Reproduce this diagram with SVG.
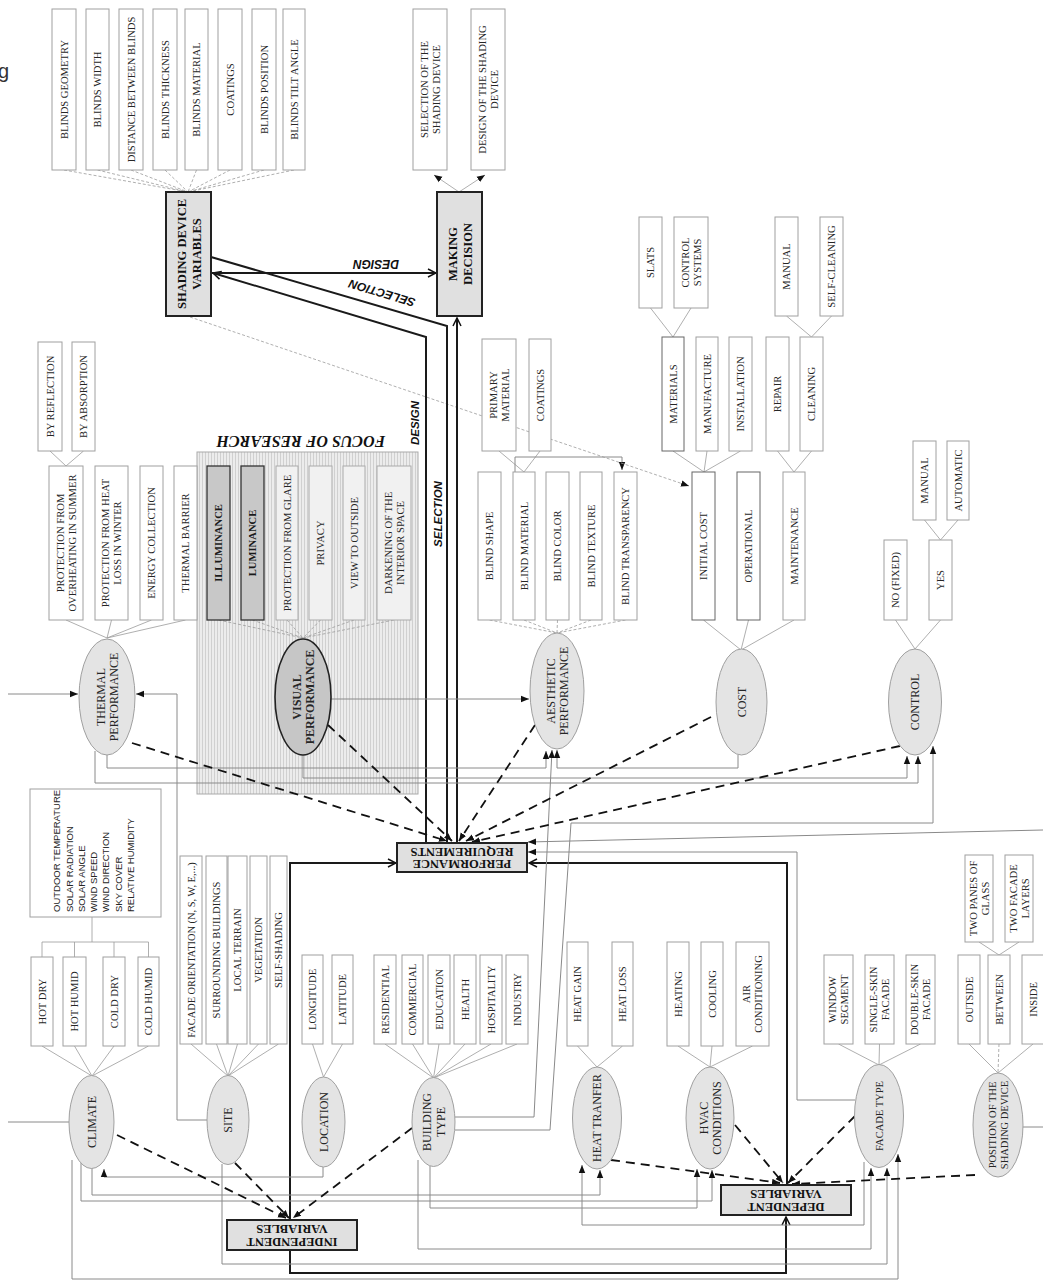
<svg xmlns="http://www.w3.org/2000/svg" width="1043" height="1280" viewBox="0 0 1043 1280">
<defs>
<style>
.b{fill:#fff;stroke:#a0a0a0;stroke-width:1}
.bk{fill:#fff;stroke:#666;stroke-width:1}
.fl{fill:#f1f1f1;stroke:#aaa;stroke-width:1}
.fd{fill:#c8c8c8;stroke:#333;stroke-width:1.3}
.t{font-family:"Liberation Serif","Times New Roman",serif;font-size:10.6px;fill:#262626;text-anchor:middle}
.tb{font-weight:bold;fill:#1a1a1a}
.e{fill:#e4e4e4;stroke:#a0a0a0;stroke-width:1}
.ev{fill:#c6c6c6;stroke:#222;stroke-width:1.6}
.et{font-family:"Liberation Serif","Times New Roman",serif;font-size:12px;fill:#262626;text-anchor:middle}
.m{fill:#e0e0e0;stroke:#222;stroke-width:2}
.mt{font-family:"Liberation Serif","Times New Roman",serif;font-size:12.5px;font-weight:bold;fill:#111;text-anchor:middle}
.c{fill:none;stroke:#9a9a9a;stroke-width:0.8}
.cd{fill:none;stroke:#9a9a9a;stroke-width:0.8;stroke-dasharray:3 2}
.g{fill:none;stroke:#8a8a8a;stroke-width:1}
.k{fill:none;stroke:#1a1a1a;stroke-width:2}
.d{fill:none;stroke:#111;stroke-width:1.8;stroke-dasharray:9 6}
.lab{font-family:"Liberation Sans",Arial,sans-serif;font-weight:bold;font-style:italic;fill:#111;text-anchor:middle}
.ws{font-family:"Liberation Sans",Arial,sans-serif;font-size:9.5px;fill:#262626}
</style>
<marker id="ah" viewBox="0 0 10 10" refX="10" refY="5" markerWidth="8" markerHeight="8" markerUnits="userSpaceOnUse" orient="auto"><path d="M0,1 L10,5 L0,9 z" fill="#111"/></marker>
<marker id="oa" viewBox="0 0 10 10" refX="9" refY="5" markerWidth="10" markerHeight="10" markerUnits="userSpaceOnUse" orient="auto"><path d="M1,1 L9,5 L1,9" fill="none" stroke="#111" stroke-width="1.5"/></marker>
<pattern id="stripes" width="3" height="10" patternUnits="userSpaceOnUse"><rect width="3" height="10" fill="#ececec"/><line x1="1.5" y1="0" x2="1.5" y2="10" stroke="#d0d0d0" stroke-width="1"/></pattern>
</defs>
<rect width="1043" height="1280" fill="#fff"/>
<text x="-2" y="78" font-family="Liberation Sans,Arial,sans-serif" font-size="20" fill="#333">g</text>

<!-- focus area -->
<g id="focus">
<rect x="197" y="452" width="221" height="342" fill="url(#stripes)" stroke="#aaa"/>
<text class="lab" style="font-family:'Liberation Serif',serif;font-size:16px" transform="translate(301,441) rotate(180)" y="5.5">FOCUS OF RESEARCH</text>
</g>

<!-- connectors -->
<g id="connectors">
<path class="cd" d="M64,170L188,192M97.5,170L188,192M131,170L188,192M165,170L188,192M196.5,170L188,192M230,170L188,192M264,170L188,192M294,170L188,192"/>
<path class="c" d="M459,192L434,175" marker-end="url(#ah)"/>
<path class="c" d="M459,192L485,175" marker-end="url(#ah)"/>
<path class="c" d="M66,620L107,638M111.5,620L107,638M151.5,620L107,638M185.5,620L107,638M50,451L66,466M83.5,451L66,466"/>
<path class="cd" d="M218.5,620L303,638M252.5,620L303,638M287,620L303,638M320.5,620L303,638M354,620L303,638M394,620L303,638"/>
<path class="cd" d="M489.5,620L557,633M524,620L557,633M557.5,620L557,633M591,620L557,633M625.5,620L557,633"/>
<path class="c" d="M499,451L524,472M540,451L524,472"/>
<path class="g" d="M515,472V457H622V470" marker-end="url(#ah)"/>
<path class="c" d="M703.5,620L741,650M748.5,620L741,650M794,620L741,650M673,451L704,472M707,451L704,472M740.5,451L704,472M777.5,451L794,472M811.5,451L794,472M650.5,308L673,337M691,308L673,337M786.5,316L811.5,337M831.5,316L811.5,337"/>
<path class="c" d="M895.5,620L915,649M940.5,620L915,649M924.5,520L940.5,540M958,520L940.5,540"/>
<path class="c" d="M42,1046L92,1076M74.5,1046L92,1076M114,1046L92,1076M148.5,1046L92,1076M42,957V942H148.5V957M74.5,942V957M114,942V957M92,942V917"/>
<path class="c" d="M191,1044L228,1076M216.5,1044L228,1076M237.5,1044L228,1076M258.5,1044L228,1076M278.5,1044L228,1076M312.5,1044L323.5,1077M342.5,1044L323.5,1077"/>
<path class="c" d="M385,1044L433.5,1078M412.5,1044L433.5,1078M439,1044L433.5,1078M465,1044L433.5,1078M491,1044L433.5,1078M517,1044L433.5,1078"/>
<path class="c" d="M577.5,1046L597,1067M622.5,1046L597,1067M678,1046L710,1067M712,1046L710,1067M752.5,1046L710,1067M838.5,1044L879,1065M879.5,1044L879,1065M920.5,1044L879,1065M969,1044L998,1073M1033,1044L998,1073M979,942L999,955M1019,942L999,955"/>
<path class="cd" d="M999,1044L998,1073"/>
<path class="cd" d="M190,317L689,486" marker-end="url(#ah)"/>
<path class="k" d="M426,843V337L213,273" marker-end="url(#oa)"/>
<path class="k" d="M447,843V326L211,257"/>
<path class="k" d="M457,843V318" marker-end="url(#oa)"/>
<path class="k" d="M211,273H436" marker-end="url(#oa)"/>
<path class="k" d="M290,1220V863H396" marker-end="url(#oa)"/>
<path class="k" d="M290,1250V1273H786V1217" marker-end="url(#oa)"/>
<path class="k" d="M787,1185V863H529" marker-end="url(#oa)"/>
<path class="g" d="M8,694H78" marker-end="url(#ah)"/>
<path class="g" d="M207,1120H177V694H136" marker-end="url(#ah)"/>
<path class="g" d="M107,755V768H546V751" marker-end="url(#ah)"/>
<path class="g" d="M738,755V768H557V750" marker-end="url(#ah)"/>
<path class="g" d="M303,755V778H907V756" marker-end="url(#ah)"/>
<path class="g" d="M95,751V783H918V756" marker-end="url(#ah)"/>
<path class="g" d="M331,699H529" marker-end="url(#ah)"/>
<path class="g" d="M455,1117H534L552,750" marker-end="url(#ah)"/>
<path class="g" d="M455,1130H550L571,823H933V746" marker-end="url(#ah)"/>
<path class="g" d="M1043,830L528,842" marker-end="url(#ah)"/>
<path class="g" d="M855,1100H797V852H528" marker-end="url(#ah)"/>
<path class="g" d="M8,1122H69"/>
<path class="g" d="M323,1167V1177H104V1169" marker-end="url(#ah)"/>
<path class="g" d="M92,1168V1195H600V1170" marker-end="url(#ah)"/>
<path class="g" d="M81,1163V1201H712V1170" marker-end="url(#ah)"/>
<path class="g" d="M430,1166V1208H697V1169" marker-end="url(#ah)"/>
<path class="g" d="M864,1162V1225H582V1165" marker-end="url(#ah)"/>
<path class="g" d="M418,1160V1249H871V1168" marker-end="url(#ah)"/>
<path class="g" d="M222,1164V1264H887V1168" marker-end="url(#ah)"/>
<path class="g" d="M72,1160V1279H898V1154" marker-end="url(#ah)"/>
<path class="g" d="M1023,1127H1043"/>
<path class="d" d="M132,743L447,841" marker-end="url(#ah)"/>
<path class="d" d="M328,725L452,841" marker-end="url(#ah)"/>
<path class="d" d="M535,725L459,841" marker-end="url(#ah)"/>
<path class="d" d="M711,717L466,841" marker-end="url(#ah)"/>
<path class="d" d="M900,746L472,842" marker-end="url(#ah)"/>
<path class="d" d="M117,1135L286,1218" marker-end="url(#ah)"/>
<path class="d" d="M235,1163L289,1218" marker-end="url(#ah)"/>
<path class="d" d="M412,1128L293,1218" marker-end="url(#ah)"/>
<path class="d" d="M611,1160L780,1183" marker-end="url(#ah)"/>
<path class="d" d="M735,1125L783,1183" marker-end="url(#ah)"/>
<path class="d" d="M855,1116L788,1183" marker-end="url(#ah)"/>
<path class="d" d="M975,1175L792,1184" marker-end="url(#ah)"/>
<text class="lab" style="font-size:12px" transform="translate(376,264) rotate(180)" y="4">DESIGN</text>
<text class="lab" style="font-size:12px" transform="translate(382,293) rotate(196.5)" y="4">SELECTION</text>
<text class="lab" style="font-size:11.5px" transform="translate(415,423) rotate(-90)" y="4">DESIGN</text>
<text class="lab" style="font-size:11.5px" transform="translate(437.5,514) rotate(-90)" y="4">SELECTION</text>
</g>

<g id="n-sdv"><rect class="m" x="166" y="192" width="45" height="124"/><text class="mt" transform="translate(188.5,254) rotate(-90)"><tspan x="0" y="-3">SHADING DEVICE</tspan><tspan x="0" y="12">VARIABLES</tspan></text></g>
<g id="n-bg"><rect class="b" x="52" y="9" width="24" height="161"/><text class="t" transform="translate(64,89.5) rotate(-90)" y="3.7">BLINDS GEOMETRY</text></g>
<g id="n-bw"><rect class="b" x="86" y="9" width="23" height="161"/><text class="t" transform="translate(97.5,89.5) rotate(-90)" y="3.7">BLINDS WIDTH</text></g>
<g id="n-db"><rect class="b" x="119" y="9" width="24" height="161"/><text class="t" transform="translate(131,89.5) rotate(-90)" y="3.7">DISTANCE BETWEEN BLINDS</text></g>
<g id="n-bt"><rect class="b" x="153" y="9" width="24" height="161"/><text class="t" transform="translate(165,89.5) rotate(-90)" y="3.7">BLINDS THICKNESS</text></g>
<g id="n-bm"><rect class="b" x="185" y="9" width="23" height="161"/><text class="t" transform="translate(196.5,89.5) rotate(-90)" y="3.7">BLINDS MATERIAL</text></g>
<g id="n-co"><rect class="b" x="218" y="9" width="24" height="161"/><text class="t" transform="translate(230,89.5) rotate(-90)" y="3.7">COATINGS</text></g>
<g id="n-bp"><rect class="b" x="252" y="9" width="24" height="161"/><text class="t" transform="translate(264,89.5) rotate(-90)" y="3.7">BLINDS POSITION</text></g>
<g id="n-ba"><rect class="b" x="283" y="9" width="22" height="161"/><text class="t" transform="translate(294,89.5) rotate(-90)" y="3.7">BLINDS TILT ANGLE</text></g>

<g id="n-md"><rect class="m" x="437" y="192" width="45" height="124"/><text class="mt" transform="translate(459.5,254) rotate(-90)"><tspan x="0" y="-3">MAKING</tspan><tspan x="0" y="12">DECISION</tspan></text></g>
<g id="n-sel"><rect class="b" x="413" y="9" width="34" height="161"/><text class="t" transform="translate(430,89.5) rotate(-90)"><tspan x="0" y="-2.5">SELECTION OF THE</tspan><tspan x="0" y="9.5">SHADING DEVICE</tspan></text></g>
<g id="n-des"><rect class="b" x="471" y="9" width="34" height="161"/><text class="t" transform="translate(488,89.5) rotate(-90)"><tspan x="0" y="-2.5">DESIGN OF THE SHADING</tspan><tspan x="0" y="9.5">DEVICE</tspan></text></g>

<g id="n-thermal"><ellipse class="e" cx="107" cy="697" rx="28" ry="58"/><text class="et" transform="translate(107,697) rotate(-90)"><tspan x="0" y="-2.5">THERMAL</tspan><tspan x="0" y="11">PERFORMANCE</tspan></text></g>
<g id="n-po"><rect class="b" x="49" y="466" width="34" height="154"/><text class="t" transform="translate(66,543) rotate(-90)"><tspan x="0" y="-2.5">PROTECTION FROM</tspan><tspan x="0" y="9.5">OVERHEATING IN SUMMER</tspan></text></g>
<g id="n-ph"><rect class="b" x="95" y="466" width="33" height="154"/><text class="t" transform="translate(111.5,543) rotate(-90)"><tspan x="0" y="-2.5">PROTECTION FROM HEAT</tspan><tspan x="0" y="9.5">LOSS IN WINTER</tspan></text></g>
<g id="n-ec"><rect class="b" x="140" y="466" width="23" height="154"/><text class="t" transform="translate(151.5,543) rotate(-90)" y="3.7">ENERGY COLLECTION</text></g>
<g id="n-tb"><rect class="b" x="174" y="466" width="23" height="154"/><text class="t" transform="translate(185.5,543) rotate(-90)" y="3.7">THERMAL BARRIER</text></g>
<g id="n-br"><rect class="b" x="38" y="342" width="24" height="109"/><text class="t" transform="translate(50,396.5) rotate(-90)" y="3.7">BY REFLECTION</text></g>
<g id="n-bab"><rect class="b" x="72" y="342" width="23" height="109"/><text class="t" transform="translate(83.5,396.5) rotate(-90)" y="3.7">BY ABSORPTION</text></g>

<g id="n-visual"><ellipse class="ev" cx="303" cy="697" rx="28" ry="58"/><text class="et tb" transform="translate(303,697) rotate(-90)"><tspan x="0" y="-2.5">VISUAL</tspan><tspan x="0" y="11">PERFORMANCE</tspan></text></g>
<g id="n-ill"><rect class="fd" x="207" y="466" width="23" height="154"/><text class="t tb" transform="translate(218.5,543) rotate(-90)" y="3.7">ILLUMINANCE</text></g>
<g id="n-lum"><rect class="fd" x="241" y="466" width="23" height="154"/><text class="t tb" transform="translate(252.5,543) rotate(-90)" y="3.7">LUMINANCE</text></g>
<g id="n-pg"><rect class="fl" x="276" y="466" width="22" height="154"/><text class="t" transform="translate(287,543) rotate(-90)" y="3.7">PROTECTION FROM GLARE</text></g>
<g id="n-pr"><rect class="fl" x="309" y="466" width="23" height="154"/><text class="t" transform="translate(320.5,543) rotate(-90)" y="3.7">PRIVACY</text></g>
<g id="n-vo"><rect class="fl" x="343" y="466" width="22" height="154"/><text class="t" transform="translate(354,543) rotate(-90)" y="3.7">VIEW TO OUTSIDE</text></g>
<g id="n-dk"><rect class="fl" x="377" y="466" width="34" height="154"/><text class="t" transform="translate(394,543) rotate(-90)"><tspan x="0" y="-2.5">DARKENING OF THE</tspan><tspan x="0" y="9.5">INTERIOR SPACE</tspan></text></g>

<g id="n-aesthetic"><ellipse class="e" cx="557" cy="691" rx="27" ry="58"/><text class="et" transform="translate(557,691) rotate(-90)"><tspan x="0" y="-2.5">AESTHETIC</tspan><tspan x="0" y="11">PERFORMANCE</tspan></text></g>
<g id="n-pm"><rect class="b" x="482" y="339" width="34" height="112"/><text class="t" transform="translate(499,395) rotate(-90)"><tspan x="0" y="-2.5">PRIMARY</tspan><tspan x="0" y="9.5">MATERIAL</tspan></text></g>
<g id="n-aco"><rect class="b" x="529" y="339" width="22" height="112"/><text class="t" transform="translate(540,395) rotate(-90)" y="3.7">COATINGS</text></g>
<g id="n-bs"><rect class="b" x="478" y="472" width="23" height="148"/><text class="t" transform="translate(489.5,546) rotate(-90)" y="3.7">BLIND SHAPE</text></g>
<g id="n-bma"><rect class="b" x="513" y="472" width="22" height="148"/><text class="t" transform="translate(524,546) rotate(-90)" y="3.7">BLIND MATERIAL</text></g>
<g id="n-bc"><rect class="b" x="546" y="472" width="23" height="148"/><text class="t" transform="translate(557.5,546) rotate(-90)" y="3.7">BLIND COLOR</text></g>
<g id="n-btx"><rect class="b" x="580" y="472" width="22" height="148"/><text class="t" transform="translate(591,546) rotate(-90)" y="3.7">BLIND TEXTURE</text></g>
<g id="n-btr"><rect class="b" x="614" y="472" width="23" height="148"/><text class="t" transform="translate(625.5,546) rotate(-90)" y="3.7">BLIND TRANSPARENCY</text></g>

<g id="n-cost"><ellipse class="e" cx="741.5" cy="702" rx="25.5" ry="53"/><text class="et" transform="translate(741.5,702) rotate(-90)" y="4.2">COST</text></g>
<g id="n-ic"><rect class="bk" x="692" y="472" width="23" height="148"/><text class="t" transform="translate(703.5,546) rotate(-90)" y="3.7">INITIAL COST</text></g>
<g id="n-op"><rect class="bk" x="737" y="472" width="23" height="148"/><text class="t" transform="translate(748.5,546) rotate(-90)" y="3.7">OPERATIONAL</text></g>
<g id="n-mt"><rect class="b" x="783" y="472" width="22" height="148"/><text class="t" transform="translate(794,546) rotate(-90)" y="3.7">MAINTENANCE</text></g>
<g id="n-mats"><rect class="bk" x="662" y="337" width="22" height="114"/><text class="t" transform="translate(673,394) rotate(-90)" y="3.7">MATERIALS</text></g>
<g id="n-man"><rect class="b" x="696" y="337" width="22" height="114"/><text class="t" transform="translate(707,394) rotate(-90)" y="3.7">MANUFACTURE</text></g>
<g id="n-ins"><rect class="b" x="729" y="337" width="23" height="114"/><text class="t" transform="translate(740.5,394) rotate(-90)" y="3.7">INSTALLATION</text></g>
<g id="n-rep"><rect class="b" x="766" y="337" width="23" height="114"/><text class="t" transform="translate(777.5,394) rotate(-90)" y="3.7">REPAIR</text></g>
<g id="n-cle"><rect class="b" x="800" y="337" width="23" height="114"/><text class="t" transform="translate(811.5,394) rotate(-90)" y="3.7">CLEANING</text></g>
<g id="n-sl"><rect class="b" x="639" y="217" width="23" height="91"/><text class="t" transform="translate(650.5,262.5) rotate(-90)" y="3.7">SLATS</text></g>
<g id="n-cs"><rect class="b" x="674" y="217" width="34" height="91"/><text class="t" transform="translate(691,262.5) rotate(-90)"><tspan x="0" y="-2.5">CONTROL</tspan><tspan x="0" y="9.5">SYSTEMS</tspan></text></g>
<g id="n-mn1"><rect class="b" x="775" y="217" width="23" height="99"/><text class="t" transform="translate(786.5,266.5) rotate(-90)" y="3.7">MANUAL</text></g>
<g id="n-sc"><rect class="b" x="820" y="217" width="23" height="99"/><text class="t" transform="translate(831.5,266.5) rotate(-90)" y="3.7">SELF-CLEANING</text></g>

<g id="n-control"><ellipse class="e" cx="915" cy="702" rx="26.5" ry="53"/><text class="et" transform="translate(915,702) rotate(-90)" y="4.2">CONTROL</text></g>
<g id="n-no"><rect class="b" x="884" y="540" width="23" height="80"/><text class="t" transform="translate(895.5,580) rotate(-90)" y="3.7">NO  (FIXED)</text></g>
<g id="n-yes"><rect class="b" x="929" y="540" width="23" height="80"/><text class="t" transform="translate(940.5,580) rotate(-90)" y="3.7">YES</text></g>
<g id="n-mn2"><rect class="b" x="913" y="441" width="23" height="79"/><text class="t" transform="translate(924.5,480.5) rotate(-90)" y="3.7">MANUAL</text></g>
<g id="n-auto"><rect class="b" x="947" y="441" width="22" height="79"/><text class="t" transform="translate(958,480.5) rotate(-90)" y="3.7">AUTOMATIC</text></g>

<g id="n-preq"><rect class="m" x="397" y="843" width="130" height="29"/><text class="mt" transform="translate(462,857.5) rotate(180)"><tspan x="0" y="-2.5">PERFORMANCE</tspan><tspan x="0" y="10">REQUIREMENTS</tspan></text></g>

<g id="n-weather"><rect class="b" x="30" y="789" width="131" height="128"/><text class="ws" transform="translate(0,912) rotate(-90)"><tspan x="0" y="60.2">OUTDOOR TEMPERATURE</tspan><tspan x="0" y="72.5">SOLAR RADIATION</tspan><tspan x="0" y="84.8">SOLAR ANGLE</tspan><tspan x="0" y="97.1">WIND SPEED</tspan><tspan x="0" y="109.4">WIND DIRECTION</tspan><tspan x="0" y="121.7">SKY COVER</tspan><tspan x="0" y="134">RELATIVE HUMIDITY</tspan></text></g>
<g id="n-climate"><ellipse class="e" cx="91.5" cy="1122" rx="22.5" ry="46.5"/><text class="et" transform="translate(91.5,1122) rotate(-90)" y="4.2">CLIMATE</text></g>
<g id="n-hd"><rect class="b" x="31" y="957" width="22" height="89"/><text class="t" transform="translate(42,1001.5) rotate(-90)" y="3.7">HOT DRY</text></g>
<g id="n-hh"><rect class="b" x="63" y="957" width="23" height="89"/><text class="t" transform="translate(74.5,1001.5) rotate(-90)" y="3.7">HOT HUMID</text></g>
<g id="n-cd"><rect class="b" x="103" y="957" width="22" height="89"/><text class="t" transform="translate(114,1001.5) rotate(-90)" y="3.7">COLD DRY</text></g>
<g id="n-ch"><rect class="b" x="138" y="957" width="21" height="89"/><text class="t" transform="translate(148.5,1001.5) rotate(-90)" y="3.7">COLD HUMID</text></g>

<g id="n-site"><ellipse class="e" cx="228" cy="1120" rx="21" ry="44.5"/><text class="et" transform="translate(228,1120) rotate(-90)" y="4.2">SITE</text></g>
<g id="n-fo"><rect class="b" x="180" y="856" width="22" height="188"/><text class="t" style="font-size:10.4px" transform="translate(191,950) rotate(-90)" y="3.7">FACADE ORIENTATION (N, S, W, E,...)</text></g>
<g id="n-sb"><rect class="b" x="206" y="856" width="21" height="188"/><text class="t" transform="translate(216.5,950) rotate(-90)" y="3.7">SURROUNDING BUILDINGS</text></g>
<g id="n-lt"><rect class="b" x="228" y="856" width="19" height="188"/><text class="t" transform="translate(237.5,950) rotate(-90)" y="3.7">LOCAL TERRAIN</text></g>
<g id="n-veg"><rect class="b" x="250" y="856" width="17" height="188"/><text class="t" transform="translate(258.5,950) rotate(-90)" y="3.7">VEGETATION</text></g>
<g id="n-ss"><rect class="b" x="270" y="856" width="17" height="188"/><text class="t" transform="translate(278.5,950) rotate(-90)" y="3.7">SELF-SHADING</text></g>

<g id="n-location"><ellipse class="e" cx="323.5" cy="1122" rx="21.5" ry="45"/><text class="et" transform="translate(323.5,1122) rotate(-90)" y="4.2">LOCATION</text></g>
<g id="n-lon"><rect class="b" x="302" y="955" width="21" height="89"/><text class="t" transform="translate(312.5,999.5) rotate(-90)" y="3.7">LONGITUDE</text></g>
<g id="n-lat"><rect class="b" x="332" y="955" width="21" height="89"/><text class="t" transform="translate(342.5,999.5) rotate(-90)" y="3.7">LATITUDE</text></g>

<g id="n-building"><ellipse class="e" cx="433.5" cy="1122" rx="21.5" ry="44.5"/><text class="et" transform="translate(433.5,1122) rotate(-90)"><tspan x="0" y="-2.5">BUILDING</tspan><tspan x="0" y="11">TYPE</tspan></text></g>
<g id="n-res"><rect class="b" x="374" y="955" width="22" height="89"/><text class="t" transform="translate(385,999.5) rotate(-90)" y="3.7">RESIDENTIAL</text></g>
<g id="n-com"><rect class="b" x="402" y="955" width="21" height="89"/><text class="t" transform="translate(412.5,999.5) rotate(-90)" y="3.7">COMMERCIAL</text></g>
<g id="n-edu"><rect class="b" x="428" y="955" width="22" height="89"/><text class="t" transform="translate(439,999.5) rotate(-90)" y="3.7">EDUCATION</text></g>
<g id="n-hea"><rect class="b" x="454" y="955" width="22" height="89"/><text class="t" transform="translate(465,999.5) rotate(-90)" y="3.7">HEALTH</text></g>
<g id="n-hos"><rect class="b" x="480" y="955" width="22" height="89"/><text class="t" transform="translate(491,999.5) rotate(-90)" y="3.7">HOSPITALITY</text></g>
<g id="n-ind"><rect class="b" x="506" y="955" width="22" height="89"/><text class="t" transform="translate(517,999.5) rotate(-90)" y="3.7">INDUSTRY</text></g>

<g id="n-iv"><rect class="m" x="227" y="1220" width="130" height="30"/><text class="mt" transform="translate(292,1235) rotate(180)"><tspan x="0" y="-2.5">INDEPENDENT</tspan><tspan x="0" y="10">VARIABLES</tspan></text></g>

<g id="n-heat"><ellipse class="e" cx="597" cy="1118" rx="24.5" ry="51"/><text class="et" transform="translate(597,1118) rotate(-90)" y="4.2">HEAT TRANFER</text></g>
<g id="n-hg"><rect class="b" x="567" y="942" width="21" height="104"/><text class="t" transform="translate(577.5,994) rotate(-90)" y="3.7">HEAT GAIN</text></g>
<g id="n-hl"><rect class="b" x="612" y="942" width="21" height="104"/><text class="t" transform="translate(622.5,994) rotate(-90)" y="3.7">HEAT LOSS</text></g>

<g id="n-hvac"><ellipse class="e" cx="710" cy="1118" rx="24" ry="51"/><text class="et" transform="translate(710,1118) rotate(-90)"><tspan x="0" y="-2.5">HVAC</tspan><tspan x="0" y="11">CONDITIONS</tspan></text></g>
<g id="n-hti"><rect class="b" x="667" y="942" width="22" height="104"/><text class="t" transform="translate(678,994) rotate(-90)" y="3.7">HEATING</text></g>
<g id="n-coo"><rect class="b" x="701" y="942" width="22" height="104"/><text class="t" transform="translate(712,994) rotate(-90)" y="3.7">COOLING</text></g>
<g id="n-ac"><rect class="b" x="736" y="942" width="33" height="104"/><text class="t" transform="translate(752.5,994) rotate(-90)"><tspan x="0" y="-2.5">AIR</tspan><tspan x="0" y="9.5">CONDITIONING</tspan></text></g>

<g id="n-dv"><rect class="m" x="721" y="1185" width="130" height="30"/><text class="mt" transform="translate(786,1200) rotate(180)"><tspan x="0" y="-2.5">DEPENDENT</tspan><tspan x="0" y="10">VARIABLES</tspan></text></g>

<g id="n-facade"><ellipse class="e" cx="879" cy="1116" rx="24.5" ry="51.5"/><text class="et" style="font-size:10.5px" transform="translate(879,1116) rotate(-90)" y="3.7">FACADE TYPE</text></g>
<g id="n-ws"><rect class="b" x="824" y="955" width="29" height="89"/><text class="t" transform="translate(838.5,999.5) rotate(-90)"><tspan x="0" y="-2.5">WINDOW</tspan><tspan x="0" y="9.5">SEGMENT</tspan></text></g>
<g id="n-ssf"><rect class="b" x="865" y="955" width="29" height="89"/><text class="t" transform="translate(879.5,999.5) rotate(-90)"><tspan x="0" y="-2.5">SINGLE-SKIN</tspan><tspan x="0" y="9.5">FACADE</tspan></text></g>
<g id="n-dsf"><rect class="b" x="906" y="955" width="29" height="89"/><text class="t" transform="translate(920.5,999.5) rotate(-90)"><tspan x="0" y="-2.5">DOUBLE-SKIN</tspan><tspan x="0" y="9.5">FACADE</tspan></text></g>

<g id="n-position"><ellipse class="e" cx="998" cy="1125" rx="25" ry="52"/><text class="et" style="font-size:10.5px" transform="translate(998,1125) rotate(-90)"><tspan x="0" y="-2.5">POSITION OF THE</tspan><tspan x="0" y="9.5">SHADING DEVICE</tspan></text></g>
<g id="n-out"><rect class="b" x="958" y="955" width="22" height="89"/><text class="t" transform="translate(969,999.5) rotate(-90)" y="3.7">OUTSIDE</text></g>
<g id="n-bet"><rect class="b" x="988" y="955" width="22" height="89"/><text class="t" transform="translate(999,999.5) rotate(-90)" y="3.7">BETWEEN</text></g>
<g id="n-ins2"><rect class="b" x="1022" y="955" width="22" height="89"/><text class="t" transform="translate(1033,999.5) rotate(-90)" y="3.7">INSIDE</text></g>
<g id="n-tpg"><rect class="b" x="965" y="855" width="28" height="87"/><text class="t" transform="translate(979,898.5) rotate(-90)"><tspan x="0" y="-2.5">TWO PANES OF</tspan><tspan x="0" y="9.5">GLASS</tspan></text></g>
<g id="n-tfl"><rect class="b" x="1005" y="855" width="28" height="87"/><text class="t" transform="translate(1019,898.5) rotate(-90)"><tspan x="0" y="-2.5">TWO FACADE</tspan><tspan x="0" y="9.5">LAYERS</tspan></text></g>
</svg>
